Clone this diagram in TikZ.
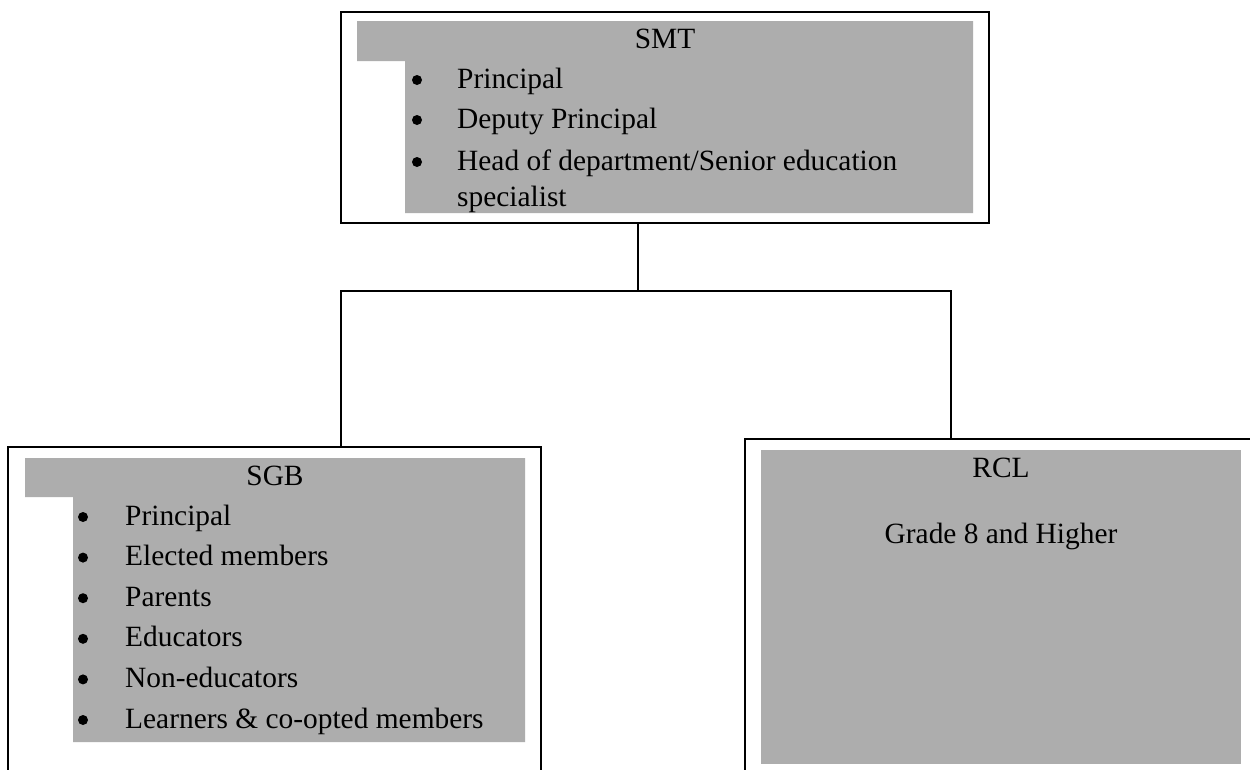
\documentclass[tikz,border=0pt]{standalone}
\usepackage{fontspec}
\setmainfont{Liberation Serif}
\definecolor{panelgray}{RGB}{173,173,173}
\begin{document}
\begin{tikzpicture}[x=1pt,y=-1pt,
  frame/.style={draw=black, line width=1.5pt, fill=none, inner sep=0pt, outer sep=0pt},
  txt/.style={anchor=base, inner sep=0pt, font=\fontsize{29.4}{40}\selectfont},
  item/.style={anchor=base west, inner sep=0pt, font=\fontsize{29.4}{40}\selectfont},
  bul/.style={circle, fill=black, draw=none, inner sep=0pt, minimum size=10pt},
  link/.style={draw=black, line width=1.4pt}]
\useasboundingbox (0,0) rectangle (1250,769);
\fill[white] (0,0) rectangle (1250,769);
\clip (0,0) rectangle (1250,769);

% ---- SMT ----
\fill[panelgray] (357,21) -- (973,21) -- (973,213) -- (405,213) -- (405,61) -- (357,61) -- cycle;
\node[frame, minimum width=648pt, minimum height=211pt] (smt) at (665,117.5) {};
\node[txt] (smtT) at (665,48) {SMT};
\node[bul] (smtB1) at (417,80) {};
\node[bul] (smtB2) at (417,120) {};
\node[bul] (smtB3) at (417,162) {};
\node[item] (smtI1) at (457,88) {Principal};
\node[item] (smtI2) at (457,128) {Deputy Principal};
\node[item] (smtI3) at (457,170) {Head of department/Senior education};
\node[item] (smtI4) at (457,206) {specialist};

% ---- SGB ----
\fill[panelgray] (25,458) -- (525,458) -- (525,742) -- (73,742) -- (73,497) -- (25,497) -- cycle;
\node[frame, minimum width=533pt, minimum height=353pt] (sgb) at (274.5,623.5) {};
\node[txt] (sgbT) at (275,485) {SGB};
\foreach \i/\t/\y in {1/Principal/525, 2/Elected members/565.6, 3/Parents/606.2, 4/Educators/646.8, 5/Non-educators/687.4, 6/Learners \& co-opted members/728}{
  \node[bul] (sgbB\i) at (83,\y-8) {};
  \node[item] (sgbI\i) at (125,\y) {\t};
}

% ---- RCL ----
\fill[panelgray] (761,450) rectangle (1241,764);
\node[frame, minimum width=545pt, minimum height=361pt] (rcl) at (1017.5,619.5) {};
\node[txt] (rclT) at (1001,477) {RCL};
\node[txt] (rclG) at (1001,543) {Grade 8 and Higher};

% ---- connectors ----
\coordinate (j) at (638,291);
\coordinate (l) at (341,291);
\coordinate (r) at (951,291);
\draw[link] (smt.south -| j) -- (j);
\draw[link] (sgb.north -| l) -- (l) -- (r) -- (rcl.north -| r);
\end{tikzpicture}
\end{document}
